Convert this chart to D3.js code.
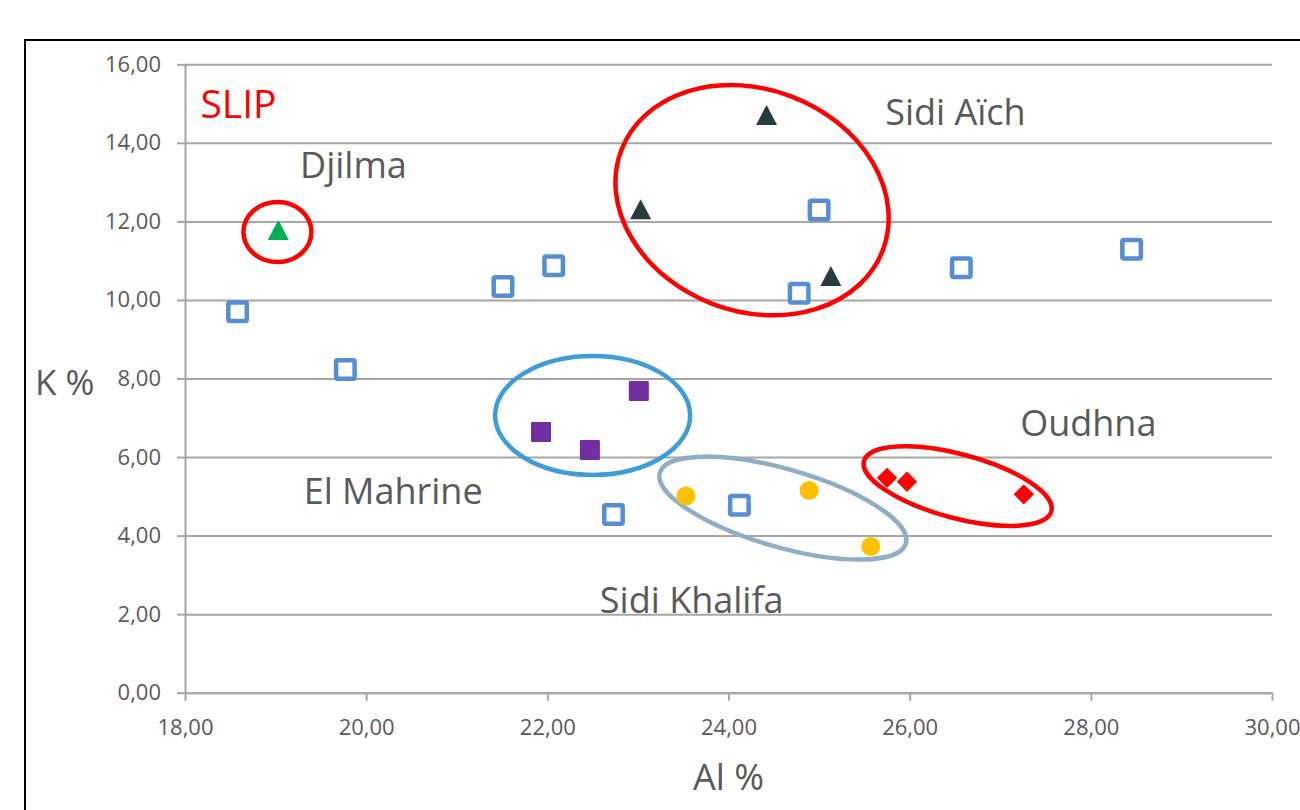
<!DOCTYPE html>
<html>
<head>
<meta charset="utf-8">
<script src="https://cdn.jsdelivr.net/npm/d3@7/dist/d3.min.js"></script>
<style>
  body { margin: 0; background: #fff; }
  svg { display: block; font-family: "Open Sans", sans-serif; }
</style>
</head>
<body>
<div id="chart"></div>
<script>
// Al % (x) and K % (y), one pair of arrays per site
let slipAl = [18.58, 19.77, 21.51, 22.07, 22.73, 24.12, 24.78, 25.00, 26.57, 28.45];
let slipK = [9.70, 8.23, 10.34, 10.87, 4.54, 4.77, 10.17, 12.29, 10.82, 11.29];
let djilmaAl = [19.03];
let djilmaK = [11.78];
let sidiAichAl = [23.03, 24.42, 25.13];
let sidiAichK = [12.31, 14.71, 10.61];
let mahrineAl = [21.93, 22.47, 23.01];
let mahrineK = [6.64, 6.18, 7.68];
let khalifaAl = [23.53, 24.89, 25.57];
let khalifaK = [5.01, 5.15, 3.72];
let oudhnaAl = [25.75, 25.97, 27.26];
let oudhnaK = [5.47, 5.37, 5.05];

let xTicks = [18, 20, 22, 24, 26, 28, 30];
let yTicks = [0, 2, 4, 6, 8, 10, 12, 14, 16];
let xTitle = "Al %";
let yTitle = "K %";

let width = 1300;
let height = 810;
let grey = "#a6a6a6";
let textGrey = "#595959";

let svg = d3.select('#chart')
    .append('svg')
    .attr('width', width)
    .attr('height', height);

// outer frame of the chart (cut by the picture edge)
svg.append('rect')
    .attr('x', 25)
    .attr('y', 40)
    .attr('width', 1320)
    .attr('height', 820)
    .attr('fill', 'none')
    .attr('stroke', '#000')
    .attr('stroke-width', 2);

let x = d3.scaleLinear().domain([18, 30]).range([185, 1272]);
let y = d3.scaleLinear().domain([0, 16]).range([692.7, 64.3]);
let fmt = v => d3.format('.2f')(v).replace('.', ',');

// horizontal grid
let grid = svg.append('g')
    .attr('transform', 'translate(' + x(18) + ',0)')
    .call(d3.axisLeft(y).tickValues(yTicks).tickSize(-(x(30) - x(18))).tickFormat(''));
grid.select('.domain').remove();
grid.selectAll('line').attr('stroke', grey).attr('stroke-width', 2);

// y axis
let yAxis = svg.append('g')
    .attr('transform', 'translate(' + x(18) + ',0)')
    .call(d3.axisLeft(y).tickValues(yTicks).tickSize(8).tickSizeOuter(0).tickPadding(16).tickFormat(fmt));

// x axis
let xAxis = svg.append('g')
    .attr('transform', 'translate(0,' + y(0) + ')')
    .call(d3.axisBottom(x).tickValues(xTicks).tickSize(8).tickSizeOuter(0).tickPadding(19).tickFormat(fmt));

[xAxis, yAxis].forEach(function (a) {
    a.select('.domain').attr('stroke', grey).attr('stroke-width', 2);
    a.selectAll('line').attr('stroke', grey).attr('stroke-width', 2);
    a.selectAll('text')
        .attr('fill', textGrey)
        .style('font-size', '22px')
        .style('font-family', '"Open Sans", sans-serif');
});

svg.append('text')
    .attr('x', 35)
    .attr('y', 395)
    .attr('fill', textGrey)
    .style('font-size', '35px')
    .text(yTitle);

svg.append('text')
    .attr('x', (x(18) + x(30)) / 2)
    .attr('y', 790)
    .attr('text-anchor', 'middle')
    .attr('fill', textGrey)
    .style('font-size', '36px')
    .text(xTitle);

// ellipses drawn round the site groups (centre in data units, radii in px)
let rings = [
    { al: 19.02, k: 11.73, rx: 34, ry: 30, rot: 0, color: '#ff0000' },
    { al: 24.26, k: 12.54, rx: 140, ry: 111, rot: 21, color: '#ff0000' },
    { al: 22.50, k: 7.06, rx: 97.5, ry: 59.5, rot: 0, color: '#3d9dd9' },
    { al: 24.60, k: 4.70, rx: 128, ry: 39, rot: 16, color: '#8faec4' },
    { al: 26.53, k: 5.26, rx: 97, ry: 32, rot: 15, color: '#ff0000' }
];
rings.forEach(function (r) {
    svg.append('ellipse')
        .attr('transform', 'translate(' + x(r.al) + ',' + y(r.k) + ') rotate(' + r.rot + ')')
        .attr('rx', r.rx)
        .attr('ry', r.ry)
        .attr('fill', 'none')
        .attr('stroke', r.color)
        .attr('stroke-width', 4.5);
});

function pairs(al, k) {
    return al.map(function (d, i) { return [d, k[i]]; });
}

// SLIP: open blue squares
svg.selectAll('.slip')
    .data(pairs(slipAl, slipK))
    .enter().append('rect')
    .attr('x', d => x(d[0]) - 9.25)
    .attr('y', d => y(d[1]) - 9.25)
    .attr('width', 18.5)
    .attr('height', 18.5)
    .attr('rx', 1.5)
    .attr('fill', '#fff')
    .attr('stroke', '#558ed5')
    .attr('stroke-width', 4.5);

let tri = 'M0,-10L10.5,10L-10.5,10Z';

svg.selectAll('.djilma')
    .data(pairs(djilmaAl, djilmaK))
    .enter().append('path')
    .attr('d', tri)
    .attr('transform', d => 'translate(' + x(d[0]) + ',' + y(d[1]) + ')')
    .attr('fill', '#00b050');

svg.selectAll('.aich')
    .data(pairs(sidiAichAl, sidiAichK))
    .enter().append('path')
    .attr('d', tri)
    .attr('transform', d => 'translate(' + x(d[0]) + ',' + y(d[1]) + ')')
    .attr('fill', '#283a42');

svg.selectAll('.mahrine')
    .data(pairs(mahrineAl, mahrineK))
    .enter().append('rect')
    .attr('x', d => x(d[0]) - 10)
    .attr('y', d => y(d[1]) - 10)
    .attr('width', 20)
    .attr('height', 20)
    .attr('rx', 1)
    .attr('fill', '#7030a0');

svg.selectAll('.khalifa')
    .data(pairs(khalifaAl, khalifaK))
    .enter().append('circle')
    .attr('cx', d => x(d[0]))
    .attr('cy', d => y(d[1]))
    .attr('r', 9.5)
    .attr('fill', '#ffc000');

svg.selectAll('.oudhna')
    .data(pairs(oudhnaAl, oudhnaK))
    .enter().append('rect')
    .attr('x', -7.2)
    .attr('y', -7.2)
    .attr('width', 14.4)
    .attr('height', 14.4)
    .attr('transform', d => 'translate(' + x(d[0]) + ',' + y(d[1]) + ') rotate(45)')
    .attr('fill', '#ff0000');

// site names (anchor in data units, left/baseline)
let siteNames = ['SLIP', 'Djilma', 'Sidi Aïch', 'El Mahrine', 'Sidi Khalifa', 'Oudhna'];
let nameAl = [18.17, 19.27, 25.73, 19.31, 22.58, 27.22];
let nameK = [14.63, 13.10, 14.45, 4.80, 2.03, 6.54];

siteNames.forEach(function (n, i) {
    svg.append('text')
        .attr('x', x(nameAl[i]))
        .attr('y', y(nameK[i]))
        .attr('fill', i === 0 ? '#ff0000' : textGrey)
        .style('font-size', i === 0 ? '39px' : '36px')
        .text(n);
});
</script>
</body>
</html>
